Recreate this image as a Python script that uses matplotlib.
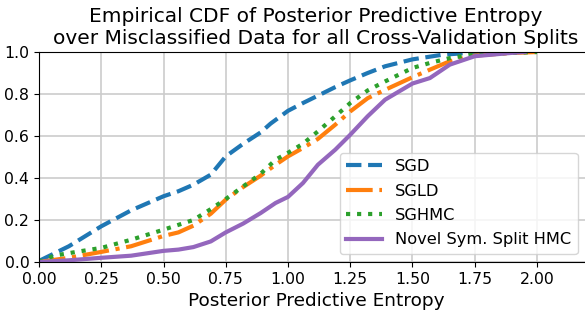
import numpy as np
import matplotlib
matplotlib.use('Agg')
import matplotlib.pyplot as plt

# values
sgd_x = [0, 0.12, 0.25, 0.37, 0.5, 0.56, 0.62, 0.69, 0.75, 0.82, 0.89, 0.93, 1.0,
         1.06, 1.12, 1.19, 1.25, 1.32, 1.39, 1.5, 1.62, 1.75, 1.77]
sgd_y = [0.005, 0.075, 0.17, 0.246, 0.313, 0.337, 0.368, 0.416, 0.503, 0.563, 0.617, 0.659, 0.72,
         0.757, 0.792, 0.833, 0.865, 0.9, 0.932, 0.965, 0.987, 0.998, 1.0]

sgld_x = [0, 0.12, 0.25, 0.37, 0.5, 0.56, 0.62, 0.69, 0.75, 0.82, 0.89, 0.95, 1.0,
          1.06, 1.12, 1.19, 1.25, 1.32, 1.39, 1.5, 1.57, 1.65, 1.75, 1.89, 2.0]
sgld_y = [0, 0.02, 0.048, 0.075, 0.124, 0.141, 0.173, 0.23, 0.297, 0.357, 0.411, 0.463, 0.503,
          0.543, 0.586, 0.654, 0.717, 0.78, 0.82, 0.88, 0.916, 0.956, 0.983, 0.995, 1.0]

sghmc_x = [0, 0.06, 0.16, 0.25, 0.37, 0.49, 0.62, 0.69, 0.75, 0.82, 0.89, 0.95, 1.0,
           1.06, 1.12, 1.19, 1.25, 1.32, 1.39, 1.5, 1.57, 1.65, 1.75, 2.0]
sghmc_y = [0, 0.03, 0.05, 0.067, 0.106, 0.15, 0.2, 0.252, 0.3, 0.36, 0.42, 0.487, 0.52,
           0.563, 0.622, 0.694, 0.757, 0.817, 0.86, 0.924, 0.948, 0.971, 0.99, 1.0]

hmc_x = [0, 0.12, 0.25, 0.37, 0.5, 0.56, 0.62, 0.69, 0.75, 0.82, 0.89, 0.95, 1.0,
         1.06, 1.12, 1.19, 1.25, 1.32, 1.39, 1.5, 1.57, 1.65, 1.75, 1.89, 1.95]
hmc_y = [0, 0.008, 0.02, 0.03, 0.053, 0.059, 0.071, 0.098, 0.141, 0.183, 0.233, 0.281, 0.31,
         0.376, 0.463, 0.535, 0.606, 0.694, 0.773, 0.85, 0.876, 0.94, 0.98, 0.995, 1.0]

fig = plt.figure(figsize=(5.85, 3.12), dpi=100)
# right edge of the axes runs a little past the image, as in the reference
ax = fig.add_axes([0.0667, 0.1603, 0.947, 0.673])

ax.plot(sgd_x, sgd_y, color='C0', linestyle='--', linewidth=3, label='SGD')
ax.plot(sgld_x, sgld_y, color='C1', linestyle='-.', linewidth=3, label='SGLD')
ax.plot(sghmc_x, sghmc_y, color='C2', linestyle=':', linewidth=3, label='SGHMC')
ax.plot(hmc_x, hmc_y, color='C4', linestyle='-', linewidth=3, label='Novel Sym. Split HMC')

ax.set_xlim(0, 2.225)
ax.set_ylim(0, 1.0)
ax.set_xticks([0, 0.25, 0.5, 0.75, 1.0, 1.25, 1.5, 1.75, 2.0])
ax.set_yticks([0, 0.2, 0.4, 0.6, 0.8, 1.0])
ax.tick_params(labelsize=11.3)
ax.grid(True, color='#cccccc', linewidth=1.2)
ax.set_axisbelow(True)

ax.set_title('Empirical CDF of Posterior Predictive Entropy\n'
             'over Misclassified Data for all Cross-Validation Splits', fontsize=14.5)
ax.set_xlabel('Posterior Predictive Entropy', fontsize=13.3)
ax.legend(loc='lower right', bbox_to_anchor=(0.0, 0.0, 0.987, 1.0),
          fontsize=11.7, labelspacing=0.58, handlelength=2.2)

plt.savefig('out.png')
